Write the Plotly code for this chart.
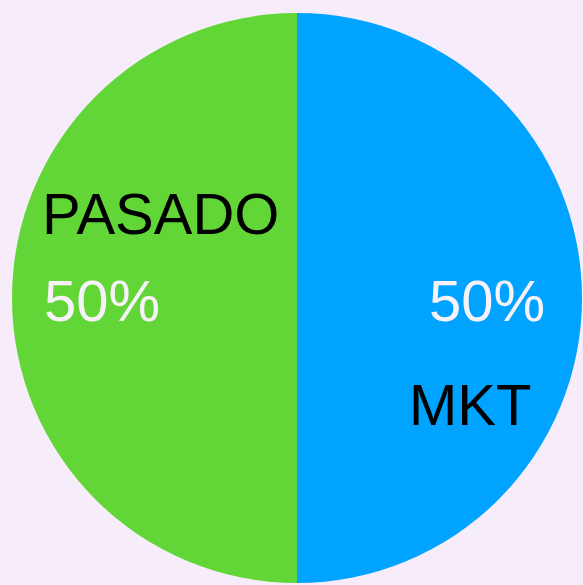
import plotly.graph_objects as go

labels = ["PASADO", "MKT"]
values = [50, 50]
colors = ["#62D637", "#00A3FF"]

W, H = 583, 585
cx, cy, r = 297, 298, 285

fig = go.Figure(go.Pie(
    labels=labels, values=values, sort=False, direction="clockwise",
    rotation=180, marker=dict(colors=colors, line=dict(width=0)),
    textinfo="none", hoverinfo="label+percent", showlegend=False,
    domain=dict(x=[(cx - r) / W, (cx + r) / W], y=[(H - cy - r) / H, (H - cy + r) / H]),
))

total = sum(values)
pct = [f"{round(v / total * 100)}%" for v in values]

font = "Liberation Sans, Arial, sans-serif"
# label positions (pixels)
label_pos = [(160, 213), (470, 404)]
pct_pos = [(102, 300), (487, 300)]
for i in range(len(labels)):
    lx, ly = label_pos[i]
    px, py = pct_pos[i]
    fig.add_annotation(x=lx / W, y=1 - ly / H, xref="paper", yref="paper", text=labels[i],
                       showarrow=False, font=dict(family=font, size=58, color="#000000"),
                       xanchor="center", yanchor="middle")
    fig.add_annotation(x=px / W, y=1 - py / H, xref="paper", yref="paper", text=pct[i],
                       showarrow=False, font=dict(family=font, size=58, color="#F7F2FA"),
                       xanchor="center", yanchor="middle")

fig.update_layout(
    width=W, height=H, margin=dict(l=0, r=0, t=0, b=0),
    paper_bgcolor="#F6ECFA", plot_bgcolor="#F6ECFA",
)
fig.write_html("out.html", config={"displayModeBar": False},
               post_script="document.body.style.margin='0';document.body.style.background='#F6ECFA';")
